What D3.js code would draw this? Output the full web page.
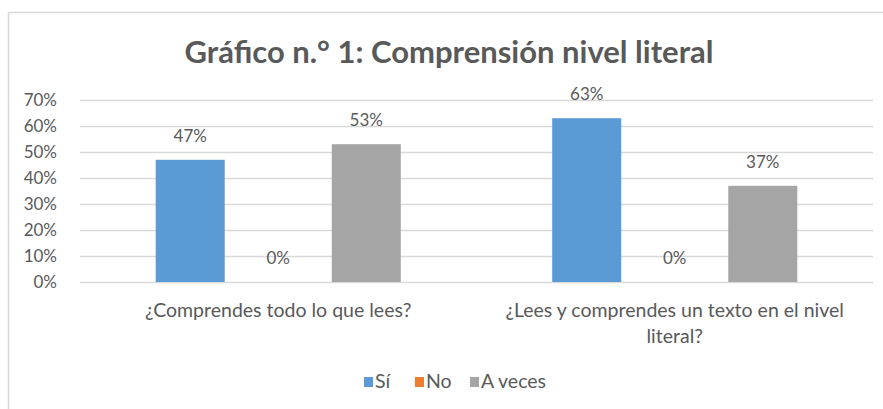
<!DOCTYPE html>
<html>
<head>
<meta charset="utf-8">
<script src="https://cdn.jsdelivr.net/npm/d3@7"></script>
<style>
  body { margin: 0; background: #fff; }
  text { font-family: Lato, "Open Sans", sans-serif; fill: #595959; }
</style>
</head>
<body>
<script>

var categories = ["¿Comprendes todo lo que lees?", "¿Lees y comprendes un texto en el nivel literal?"];
var series = ["Sí", "No", "A veces"];
var si = [0.47, 0.63];
var no = [0, 0];
var aveces = [0.53, 0.37];
var ticks = [0, 0.1, 0.2, 0.3, 0.4, 0.5, 0.6, 0.7];
var colors = ["#5B9BD5", "#ED7D31", "#A5A5A5"];

var width = 883, height = 409;
var margin = {top: 100, right: 10, bottom: 127, left: 80};

var svg = d3.select("body")
      .append("svg")
      .attr("width", width)
      .attr("height", height);

// chart frame
svg.append("path")
  .attr("d", "M8.5," + height + "V12.5H" + width)
  .attr("fill", "none")
  .attr("stroke", "#d9d9d9")
  .attr("stroke-width", 1.5);

svg.append("text")
  .attr("x", 449)
  .attr("y", 63)
  .attr("text-anchor", "middle")
  .attr("font-size", 31)
  .attr("font-weight", "bold")
  .text("Gráfico n.° 1: Comprensión nivel literal");

var data = categories.map(function(c, i) {
  return {cat: c, vals: [si[i], no[i], aveces[i]]};
});

var x0 = d3.scaleBand()
  .domain(categories)
  .range([margin.left, width - margin.right]);

var x1 = d3.scaleBand()
  .domain(series)
  .range([0, x0.bandwidth()])
  .paddingInner(0.216)
  .paddingOuter(0.86);

var y = d3.scaleLinear()
  .domain([0, 0.7])
  .range([height - margin.bottom, margin.top]);

var grid = svg.append("g");
grid.selectAll("line")
  .data(ticks)
  .enter().append("line")
  .attr("x1", margin.left)
  .attr("x2", width - margin.right)
  .attr("y1", function(d) { return Math.round(y(d)) + 0.5; })
  .attr("y2", function(d) { return Math.round(y(d)) + 0.5; })
  .attr("stroke", "#d9d9d9")
  .attr("stroke-width", 1.5);

var yAxis = svg.append("g")
  .attr("transform", "translate(" + (margin.left - 20) + ",0)")
  .call(d3.axisLeft(y).tickValues(ticks).tickSize(0).tickFormat(d3.format(".0%")));
yAxis.select(".domain").remove();
yAxis.selectAll("text")
  .attr("font-size", 17)
  .attr("fill", "#595959")
  .style("font-family", "Lato, sans-serif");

var groups = svg.append("g").selectAll("g")
  .data(data)
  .enter().append("g")
  .attr("transform", function(d) { return "translate(" + x0(d.cat) + ",0)"; });

groups.selectAll("rect")
  .data(function(d) { return d.vals.map(function(v, j) { return {s: series[j], v: v, c: colors[j]}; }); })
  .enter().append("rect")
  .attr("x", function(d) { return x1(d.s); })
  .attr("width", x1.bandwidth())
  .attr("y", function(d) { return y(d.v); })
  .attr("height", function(d) { return y(0) - y(d.v); })
  .attr("fill", function(d) { return d.c; });

groups.selectAll("text.val")
  .data(function(d) { return d.vals.map(function(v, j) { return {s: series[j], v: v}; }); })
  .enter().append("text")
  .attr("class", "val")
  .attr("x", function(d) { return x1(d.s) + x1.bandwidth() / 2; })
  .attr("y", function(d) { return y(d.v) - 18; })
  .attr("text-anchor", "middle")
  .attr("font-size", 17)
  .attr("fill", "#404040")
  .text(function(d) { return d3.format(".0%")(d.v); });

// category labels, wrapped like the original
var catLines = [["¿Comprendes todo lo que lees?"], ["¿Lees y comprendes un texto en el nivel", "literal?"]];
svg.append("g").selectAll("text")
  .data(data)
  .enter().append("text")
  .attr("x", function(d) { return x0(d.cat) + x0.bandwidth() / 2; })
  .attr("y", 317)
  .attr("text-anchor", "middle")
  .attr("font-size", 19.5)
  .each(function(d, i) {
    var t = d3.select(this);
    catLines[i].forEach(function(line, k) {
      t.append("tspan")
        .attr("x", x0(d.cat) + x0.bandwidth() / 2)
        .attr("dy", k ? 26 : 0)
        .text(line);
    });
  });

// legend
var legendX = [364, 415, 470];
var legend = svg.append("g").selectAll("g")
  .data(series)
  .enter().append("g")
  .attr("transform", function(d, i) { return "translate(" + legendX[i] + ",377)"; });
legend.append("rect")
  .attr("width", 9)
  .attr("height", 10)
  .attr("fill", function(d, i) { return colors[i]; });
legend.append("text")
  .attr("x", 11)
  .attr("y", 11)
  .attr("font-size", 19.5)
  .text(function(d) { return d; });

</script>
</body>
</html>
